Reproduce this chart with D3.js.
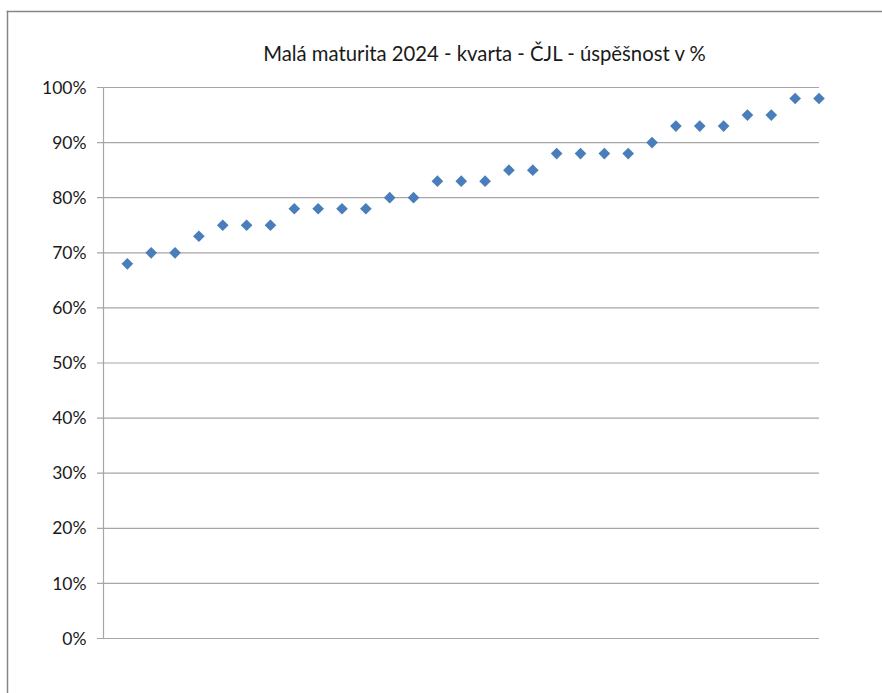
<!DOCTYPE html>
<html><head><meta charset="utf-8">
<script src="https://cdn.jsdelivr.net/npm/d3@7"></script>
<style>body{margin:0;background:#fff;overflow:hidden;}svg{display:block;font-family:Lato,"Open Sans",sans-serif;}</style>
</head><body><svg id="c" width="882" height="693"></svg>
<script>
const title = "Malá maturita 2024 - kvarta - ČJL - úspěšnost v %";
const xIndex = [1,2,3,4,5,6,7,8,9,10,11,12,13,14,15,16,17,18,19,20,21,22,23,24,25,26,27,28,29,30];
const values = [68,70,70,73,75,75,75,78,78,78,78,80,80,83,83,83,85,85,88,88,88,88,90,93,93,93,95,95,98,98];
const yTicks = [0,10,20,30,40,50,60,70,80,90,100];

const svg = d3.select("#c");
svg.append("line").attr("x1",6.75).attr("x2",882).attr("y1",11.5).attr("y2",11.5)
  .attr("stroke","#868686").attr("stroke-width",1.5);
svg.append("line").attr("x1",7.5).attr("x2",7.5).attr("y1",10.75).attr("y2",693)
  .attr("stroke","#868686").attr("stroke-width",1.5);

const x = d3.scaleLinear().domain([0,30]).range([103.5,819]);
const y = d3.scaleLinear().domain([0,100]).range([638.5,87.5]);

const g = svg.append("g");
g.selectAll("line.grid").data(yTicks).join("line")
  .attr("x1",97).attr("x2",819).attr("y1",d=>y(d)).attr("y2",d=>y(d))
  .attr("stroke","#a6a6a6").attr("stroke-width",1.2);
g.append("line").attr("x1",103.5).attr("x2",103.5).attr("y1",y(100)).attr("y2",y(0))
  .attr("stroke","#a6a6a6").attr("stroke-width",1.2);

const yAxis = d3.axisLeft(y).tickValues(yTicks).tickFormat(d=>d+"%").tickSize(0).tickPadding(11);
const ya = svg.append("g").attr("transform","translate(97.5,0)").call(yAxis);
ya.select(".domain").remove();
ya.selectAll("text").attr("font-size",17.5).attr("fill","#1a1a1a").attr("font-family","Lato,'Open Sans',sans-serif");

svg.append("g").selectAll("path").data(values).join("path")
  .attr("d", d3.symbol().type(d3.symbolSquare).size(68))
  .attr("transform",(d,i)=>`translate(${x(xIndex[i])},${y(d)}) rotate(45)`)
  .attr("fill","#4a7ebb");

svg.append("text").attr("x",484.5).attr("y",61).attr("text-anchor","middle")
  .attr("font-size",20.3).attr("fill","#1a1a1a").text(title);
</script></body></html>
